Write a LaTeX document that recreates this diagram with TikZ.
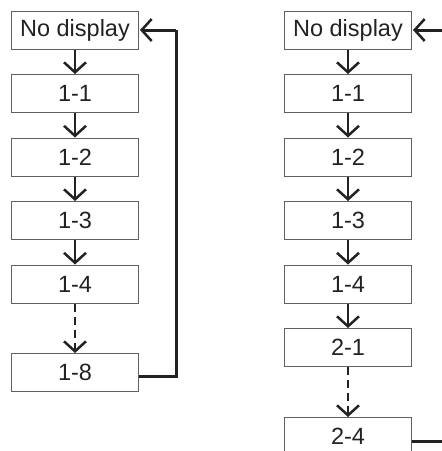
\documentclass[tikz,border=0pt]{standalone}
\usepackage{fontspec}
\setmainfont{Liberation Sans}
\usetikzlibrary{arrows.meta}
\definecolor{ink}{HTML}{222222}
\definecolor{frame}{HTML}{606060}
\tikzset{
  box/.style={draw=frame, line width=1pt, minimum width=127pt, minimum height=38pt,
    inner sep=0pt, text=ink, font=\fontsize{23.5}{26}\selectfont, anchor=north west},
  flow/.style={draw=ink, line width=2.5pt, -{Straight Barb[length=10pt,width=22pt,line width=2.5pt]}},
  dflow/.style={flow, dash pattern=on 8pt off 5pt},
  back/.style={draw=ink, line width=3pt, line join=miter},
}
\begin{document}
\begin{tikzpicture}[x=1pt,y=-1pt]
\useasboundingbox (0,0) rectangle (442,451);
\clip (0,0) rectangle (442,451);
% left column
\node[box] (a0) at (11,10.5) {No display};
\node[box] (a1) at (11,74) {1-1};
\node[box] (a2) at (11,137.5) {1-2};
\node[box] (a3) at (11,201) {1-3};
\node[box] (a4) at (11,264.5) {1-4};
\node[box] (a8) at (11,353) {1-8};
\draw[flow] (a0.south) -- (a1.north);
\draw[flow] (a1.south) -- (a2.north);
\draw[flow] (a2.south) -- (a3.north);
\draw[flow] (a3.south) -- (a4.north);
\draw[dflow] (a4.south) -- (a8.north);
\coordinate (ar) at (176,0);
\draw[back] ([yshift=-4pt]a8.east) -| (ar |- a0.east);
\draw[flow, line width=3pt] (ar |- a0.east) -- ([xshift=1pt]a0.east);
% right column
\node[box] (b0) at (284,10.5) {No display};
\node[box] (b1) at (284,74) {1-1};
\node[box] (b2) at (284,137.5) {1-2};
\node[box] (b3) at (284,201) {1-3};
\node[box] (b4) at (284,264.5) {1-4};
\node[box] (b5) at (284,328) {2-1};
\node[box] (b8) at (284,417) {2-4};
\draw[flow] (b0.south) -- (b1.north);
\draw[flow] (b1.south) -- (b2.north);
\draw[flow] (b2.south) -- (b3.north);
\draw[flow] (b3.south) -- (b4.north);
\draw[flow] (b4.south) -- (b5.north);
\draw[dflow] (b5.south) -- (b8.north);
\coordinate (br) at (460,0);
\draw[back] ([yshift=-5pt]b8.east) -- ([yshift=-5pt]b8.east -| br);
\draw[flow, line width=3pt] (br |- b0.east) -- ([xshift=1pt]b0.east);
\end{tikzpicture}
\end{document}
